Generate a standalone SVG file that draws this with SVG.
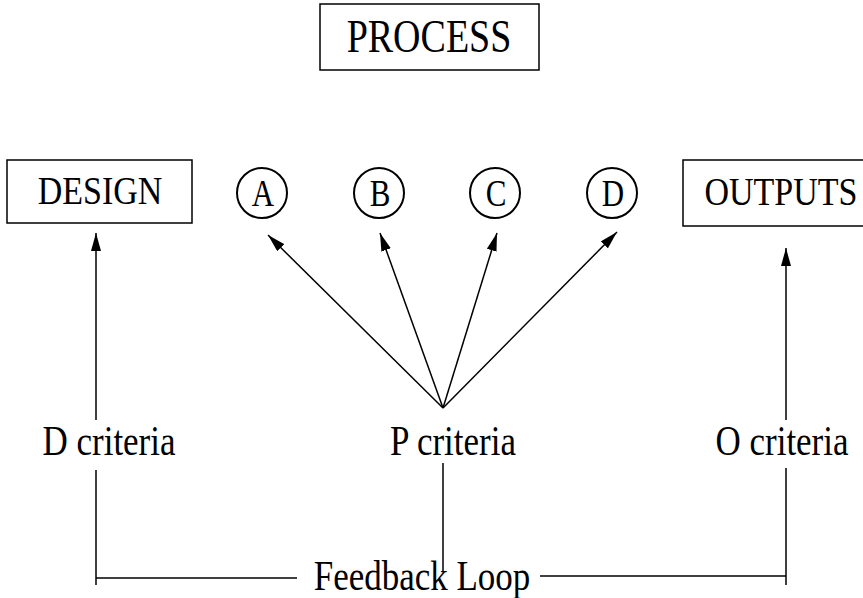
<svg xmlns="http://www.w3.org/2000/svg" width="863" height="598" viewBox="0 0 863 598">
<defs>
<style>
text{font-family:"Liberation Serif","Times New Roman",serif;fill:#000;text-anchor:middle}
.box{fill:#fff;stroke:#000;stroke-width:1.5}
.circ{fill:#fff;stroke:#000;stroke-width:2}
.ln{stroke:#000;stroke-width:1.5;fill:none}
.lbl{font-size:35px}
.nl{font-size:31px}
</style>
<marker id="ahb" viewBox="0 0 18 10" refX="18" refY="5" markerWidth="18" markerHeight="10" markerUnits="userSpaceOnUse" orient="auto">
<path d="M0,0 L18,5 L0,10 z" fill="#000"/>
</marker>
</defs>
<rect width="863" height="598" fill="#fff"/>
<g id="process"><rect class="box" x="320" y="4" width="219" height="66"/><text transform="translate(429 52) scale(1 1.2)" font-size="38">PROCESS</text></g>
<g id="design"><rect class="box" x="7" y="160" width="185" height="63"/><text transform="translate(100 204) scale(1 1.2)" font-size="34">DESIGN</text></g>
<g id="nodeA"><circle class="circ" cx="262" cy="193" r="25"/><text class="nl" transform="translate(263 206) scale(1 1.2)">A</text></g>
<g id="nodeB"><circle class="circ" cx="379" cy="193" r="25"/><text class="nl" transform="translate(380 206) scale(1 1.2)">B</text></g>
<g id="nodeC"><circle class="circ" cx="495" cy="193" r="25"/><text class="nl" transform="translate(496 206) scale(1 1.2)">C</text></g>
<g id="nodeD"><circle class="circ" cx="612" cy="193" r="25"/><text class="nl" transform="translate(613 206) scale(1 1.2)">D</text></g>
<g id="outputs"><rect class="box" x="683" y="160" width="190" height="66"/><text transform="translate(781 205) scale(1 1.2)" font-size="34">OUTPUTS</text></g>
<g id="dcrit"><text class="lbl" transform="translate(109 455) scale(1 1.2)">D criteria</text></g>
<g id="pcrit"><text class="lbl" transform="translate(453 455) scale(1 1.2)">P criteria</text></g>
<g id="ocrit"><text class="lbl" transform="translate(782 455) scale(1 1.2)">O criteria</text></g>
<g id="feedback"><text class="lbl" transform="translate(422 590) scale(1 1.2)">Feedback Loop</text></g>
<g id="connectors">
<line class="ln" x1="96" y1="420" x2="96" y2="233" marker-end="url(#ahb)"/>
<line class="ln" x1="786" y1="420" x2="786" y2="248" marker-end="url(#ahb)"/>
<line class="ln" x1="443" y1="408" x2="268" y2="235" marker-end="url(#ahb)"/>
<line class="ln" x1="443" y1="408" x2="380" y2="233" marker-end="url(#ahb)"/>
<line class="ln" x1="443" y1="408" x2="497" y2="233" marker-end="url(#ahb)"/>
<line class="ln" x1="443" y1="408" x2="617" y2="232" marker-end="url(#ahb)"/>
<line class="ln" x1="96" y1="470" x2="96" y2="585"/>
<line class="ln" x1="96" y1="578" x2="297" y2="578"/>
<line class="ln" x1="443" y1="463" x2="443" y2="572"/>
<line class="ln" x1="540" y1="576" x2="786" y2="576"/>
<line class="ln" x1="786" y1="468" x2="786" y2="585"/>
</g>
</svg>
